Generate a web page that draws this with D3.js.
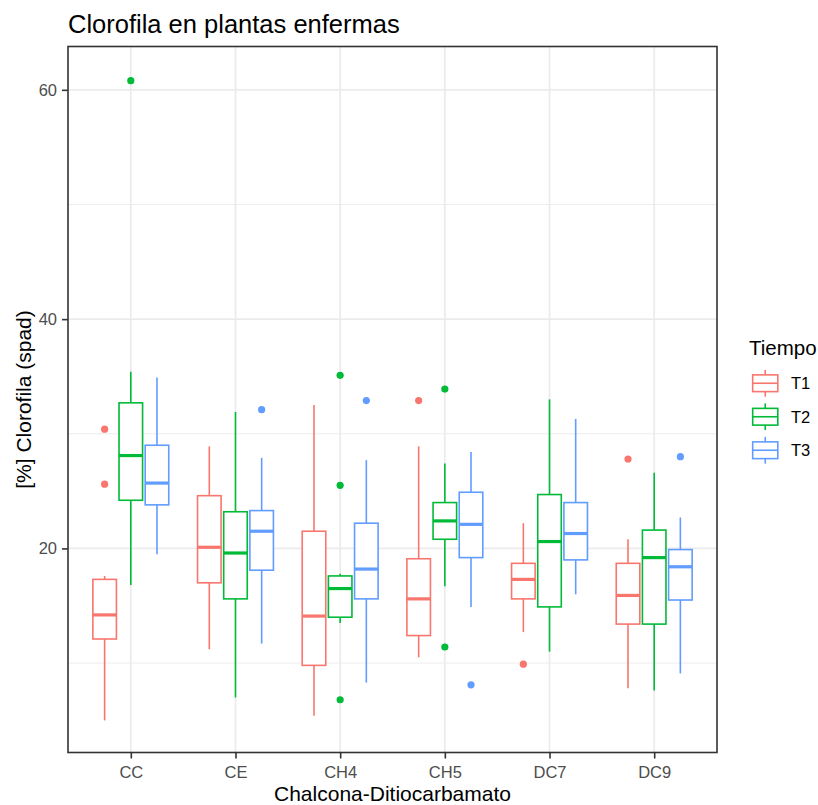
<!DOCTYPE html>
<html>
<head>
<meta charset="utf-8">
<script src="https://cdn.jsdelivr.net/npm/d3@7"></script>
<style>
  body { margin: 0; background: #fff; }
  svg { font-family: "Liberation Sans", Arial, sans-serif; }
</style>
</head>
<body>
<script>
/* categories and groups */
var categories = ['CC', 'CE', 'CH4', 'CH5', 'DC7', 'DC9'];
var tiempos = ['T1', 'T2', 'T3'];
var colores = ['#F8766D', '#00BA38', '#619CFF'];

/* box stats: whisker low, Q1, median, Q3, whisker high */
var t1Low = [5.0, 11.2, 5.4, 10.5, 12.7, 7.8];
var t1Q1  = [12.1, 17.0, 9.8, 12.4, 15.6, 13.4];
var t1Med = [14.2, 20.1, 14.1, 15.6, 17.3, 15.9];
var t1Q3  = [17.3, 24.6, 21.5, 19.1, 18.7, 18.7];
var t1High = [17.6, 28.9, 32.5, 28.9, 22.2, 20.8];
var t1Out = [[30.4, 25.6], [], [], [32.9], [9.9], [27.8]];

var t2Low = [16.8, 7.0, 13.5, 16.7, 11.0, 7.6];
var t2Q1  = [24.2, 15.6, 14.0, 20.8, 14.9, 13.4];
var t2Med = [28.1, 19.6, 16.5, 22.4, 20.6, 19.2];
var t2Q3  = [32.7, 23.2, 17.6, 24.0, 24.7, 21.6];
var t2High = [35.4, 31.9, 17.8, 27.4, 33.0, 26.6];
var t2Out = [[60.8], [], [35.1, 25.5, 6.8], [33.9, 11.4], [], []];

var t3Low = [19.5, 11.7, 8.3, 14.9, 16.0, 9.1];
var t3Q1  = [23.8, 18.1, 15.6, 19.2, 19.0, 15.5];
var t3Med = [25.7, 21.5, 18.2, 22.1, 21.3, 18.4];
var t3Q3  = [29.0, 23.3, 22.2, 24.9, 24.0, 19.9];
var t3High = [34.9, 27.9, 27.7, 28.4, 31.3, 22.7];
var t3Out = [[], [32.1], [32.9], [8.1], [], [28.0]];

var yMajor = [20, 40, 60];
var yMinor = [10, 30, 50];
var yDomain = [2.2, 63.78];

var titulo = 'Clorofila en plantas enfermas',
    xTitulo = 'Chalcona-Ditiocarbamato',
    yTitulo = '[%] Clorofila (spad)',
    leyendaTitulo = 'Tiempo';

function plot() {
    var width = 818,
        height = 805;
    var left = 68, right = 717, top = 46.5, bottom = 752.5;

    /* one row per box, built from the arrays above */
    var series = [
        [t1Low, t1Q1, t1Med, t1Q3, t1High, t1Out],
        [t2Low, t2Q1, t2Med, t2Q3, t2High, t2Out],
        [t3Low, t3Q1, t3Med, t3Q3, t3High, t3Out]
    ];
    var boxes = [];
    tiempos.forEach(function(t, j) {
        var s = series[j];
        categories.forEach(function(c, i) {
            boxes.push({cat: c, t: t, color: colores[j],
                low: s[0][i], q1: s[1][i], med: s[2][i], q3: s[3][i], high: s[4][i], out: s[5][i]});
        });
    });

    var svg = d3.select('body').append('svg')
        .attr('width', width)
        .attr('height', height);

    var x = d3.scalePoint()
        .domain(categories)
        .range([left, right])
        .padding(0.6);
    var step = x.step();
    var sub = d3.scaleBand()
        .domain(tiempos)
        .range([-0.375 * step, 0.375 * step]);
    var boxW = sub.bandwidth() * 0.9;

    var y = d3.scaleLinear()
        .domain(yDomain)
        .range([bottom, top]);

    /* grid */
    var grid = svg.append('g');
    grid.selectAll('.minor').data(yMinor).enter().append('line')
        .attr('x1', left).attr('x2', right)
        .attr('y1', d => y(d)).attr('y2', d => y(d))
        .attr('stroke', '#EBEBEB').attr('stroke-width', 0.9);
    grid.selectAll('.major').data(yMajor).enter().append('line')
        .attr('x1', left).attr('x2', right)
        .attr('y1', d => y(d)).attr('y2', d => y(d))
        .attr('stroke', '#EBEBEB').attr('stroke-width', 1.7);
    grid.selectAll('.vmajor').data(categories).enter().append('line')
        .attr('x1', d => x(d)).attr('x2', d => x(d))
        .attr('y1', top).attr('y2', bottom)
        .attr('stroke', '#EBEBEB').attr('stroke-width', 1.7);

    /* boxes */
    var g = svg.selectAll('.box').data(boxes).enter().append('g')
        .attr('class', 'box')
        .attr('transform', d => 'translate(' + (x(d.cat) + sub(d.t) + sub.bandwidth() / 2) + ',0)');
    g.append('line')
        .attr('y1', d => y(d.high)).attr('y2', d => y(d.q3))
        .attr('stroke', d => d.color).attr('stroke-width', 1.6);
    g.append('line')
        .attr('y1', d => y(d.q1)).attr('y2', d => y(d.low))
        .attr('stroke', d => d.color).attr('stroke-width', 1.6);
    g.append('rect')
        .attr('x', -boxW / 2).attr('width', boxW)
        .attr('y', d => y(d.q3)).attr('height', d => y(d.q1) - y(d.q3))
        .attr('fill', '#fff')
        .attr('stroke', d => d.color).attr('stroke-width', 1.6);
    g.append('line')
        .attr('x1', -boxW / 2).attr('x2', boxW / 2)
        .attr('y1', d => y(d.med)).attr('y2', d => y(d.med))
        .attr('stroke', d => d.color).attr('stroke-width', 3.2);
    g.selectAll('circle').data(d => d.out.map(v => ({v: v, color: d.color}))).enter().append('circle')
        .attr('r', 3.6)
        .attr('cy', d => y(d.v))
        .attr('fill', d => d.color);

    /* panel border */
    svg.append('rect')
        .attr('x', left).attr('y', top)
        .attr('width', right - left).attr('height', bottom - top)
        .attr('fill', 'none').attr('stroke', '#333333').attr('stroke-width', 1.6);

    /* axes */
    var yAxis = svg.append('g')
        .attr('transform', 'translate(' + left + ',0)')
        .call(d3.axisLeft(y).tickValues(yMajor).tickSize(6).tickPadding(5));
    var xAxis = svg.append('g')
        .attr('transform', 'translate(0,' + bottom + ')')
        .call(d3.axisBottom(x).tickSize(6).tickPadding(7.5));
    [yAxis, xAxis].forEach(function(a) {
        a.select('.domain').remove();
        a.selectAll('line').attr('stroke', '#333333').attr('stroke-width', 1.6);
        a.selectAll('text')
            .attr('fill', '#4D4D4D')
            .style('font-size', '16.5px')
            .style('font-family', '"Liberation Sans", Arial, sans-serif');
    });

    /* titles */
    svg.append('text')
        .attr('x', left).attr('y', 33)
        .style('font-size', '25.5px')
        .text(titulo);
    svg.append('text')
        .attr('x', (left + right) / 2).attr('y', 801)
        .attr('text-anchor', 'middle')
        .style('font-size', '21px')
        .text(xTitulo);
    svg.append('text')
        .attr('transform', 'translate(31,' + ((top + bottom) / 2) + ') rotate(-90)')
        .attr('text-anchor', 'middle')
        .style('font-size', '21px')
        .text(yTitulo);

    /* legend */
    var key = 33.5;
    var leg = svg.append('g').attr('transform', 'translate(748.5,366.5)');
    leg.append('text')
        .attr('x', 0.5).attr('y', -11.5)
        .style('font-size', '20.5px')
        .text(leyendaTitulo);
    var items = leg.selectAll('.item').data(tiempos).enter().append('g')
        .attr('transform', (d, i) => 'translate(0,' + (i * key) + ')');
    items.append('line')
        .attr('x1', key / 2).attr('x2', key / 2)
        .attr('y1', key * 0.1).attr('y2', key * 0.9)
        .attr('stroke', (d, i) => colores[i]).attr('stroke-width', 1.6);
    items.append('rect')
        .attr('x', key * 0.125).attr('width', key * 0.75)
        .attr('y', key * 0.25).attr('height', key * 0.5)
        .attr('fill', '#fff')
        .attr('stroke', (d, i) => colores[i]).attr('stroke-width', 1.6);
    items.append('line')
        .attr('x1', key * 0.125).attr('x2', key * 0.875)
        .attr('y1', key / 2).attr('y2', key / 2)
        .attr('stroke', (d, i) => colores[i]).attr('stroke-width', 1.6);
    items.append('text')
        .attr('x', 42.5).attr('y', key / 2 + 6)
        .style('font-size', '16.5px')
        .text(d => d);
}
plot();
</script>
</body>
</html>
